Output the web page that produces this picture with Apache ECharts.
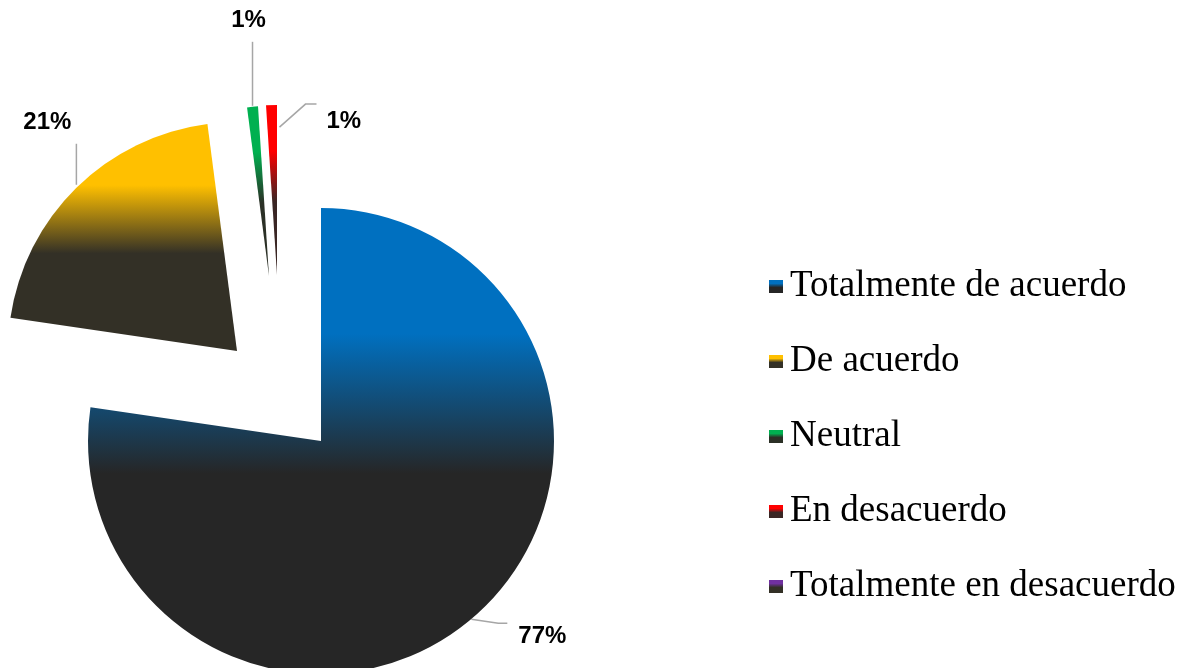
<!DOCTYPE html>
<html>
<head>
<meta charset="utf-8">
<script src="https://cdn.jsdelivr.net/npm/echarts/dist/echarts.min.js"></script>
<style>
html,body{margin:0;padding:0;background:#fff;}
#chart{width:1199px;height:668px;}
</style>
</head>
<body>
<div id="chart"></div>
<script>
// datos
var categorias = ['Totalmente de acuerdo', 'De acuerdo', 'Neutral', 'En desacuerdo', 'Totalmente en desacuerdo'];
var respuestas = [75, 20, 1, 1, 0];

// colores (arriba -> abajo del degradado)
var colores = ['#0070C0', '#FFC000', '#00B050', '#FF0000', '#7030A0'];
var oscuros = ['#262626', '#333026', '#2b3026', '#3a2624', '#333026'];

// cada porcion separada (explosion) va en su propia serie
var centros = [[321, 441], [237, 351], [269, 276], [277, 275]];
var radios = [233, 229, 170, 170];

// guias de las etiquetas, relativas al punto de anclaje del arco
var guias = [
	{ini: [-2, 2], pts: [[25, 6], [34, 6]], txt: [45, 19], align: 'left'},
	{ini: [0, -3], pts: [[0, -44]], txt: [-29, -65], align: 'center'},
	{ini: [0, -1], pts: [[0, -65]], txt: [-4, -86], align: 'center'},
	{ini: [8, 22], pts: [[34, -1], [45, -1]], txt: [55, 16], align: 'left'}
];

function degradado(i){
	return new echarts.graphic.LinearGradient(0, 0, 0, 1, [
		{offset: 0, color: colores[i]},
		{offset: 0.27, color: colores[i]},
		{offset: 0.57, color: oscuros[i]},
		{offset: 1, color: oscuros[i]}
	]);
}

function datos(visible){
	var d = [];
	for(var i = 0; i < categorias.length; i++){
		var item = {name: categorias[i], value: respuestas[i]};
		if(visible == -1 || visible == i){
			item.itemStyle = {color: degradado(i)};
		}else{
			item.itemStyle = {color: 'rgba(0,0,0,0)'};
			item.label = {show: false};
			item.labelLine = {show: false};
		}
		d.push(item);
	}
	return d;
}

function layoutEtiqueta(k){
	var g = guias[k];
	return function(params){
		var a;
		if(params.labelLinePoints && params.labelLinePoints.length){
			a = params.labelLinePoints[0];
		}else{
			a = [params.rect.x + params.rect.width / 2, params.rect.y];
		}
		var linea = [[a[0] + g.ini[0], a[1] + g.ini[1]]];
		for(var j = 0; j < g.pts.length; j++){
			linea.push([a[0] + g.pts[j][0], a[1] + g.pts[j][1]]);
		}
		return {
			x: a[0] + g.txt[0],
			y: a[1] + g.txt[1],
			align: g.align,
			verticalAlign: 'middle',
			labelLinePoints: linea
		};
	};
}

var series = [];
// serie invisible solo para la leyenda
series.push({
	type: 'pie',
	name: 'leyenda',
	radius: 0,
	center: centros[0],
	silent: true,
	label: {show: false},
	labelLine: {show: false},
	itemStyle: {borderWidth: 0},
	data: datos(-1)
});

for(var k = 0; k < 4; k++){
	series.push({
		type: 'pie',
		name: 'porcion' + k,
		center: centros[k],
		radius: radios[k],
		startAngle: 90,
		clockwise: true,
		silent: true,
		avoidLabelOverlap: false,
		emphasis: {disabled: true},
		itemStyle: {borderWidth: 0},
		label: {
			show: true,
			position: 'outside',
			fontFamily: 'Liberation Sans',
			fontWeight: 'bold',
			fontSize: 24,
			color: '#000',
			formatter: function(p){ return Math.round(p.percent) + '%'; }
		},
		labelLine: {
			show: true,
			length: 10,
			length2: 10,
			lineStyle: {color: '#a6a6a6', width: 1.5}
		},
		labelLayout: layoutEtiqueta(k),
		data: datos(k)
	});
}

var myChart = echarts.init(document.getElementById('chart'));
var option = {
	backgroundColor: '#fff',
	animation: false,
	legend: {
		orient: 'vertical',
		left: 764,
		top: 263,
		icon: 'rect',
		itemWidth: 14,
		itemHeight: 13,
		itemGap: 38,
		selectedMode: false,
		itemStyle: {borderWidth: 0},
		data: categorias,
		textStyle: {
			fontFamily: 'Liberation Serif',
			fontSize: 37,
			lineHeight: 37,
			color: '#000',
			padding: [0, 0, 0, 2]
		}
	},
	series: series
};
myChart.setOption(option);
</script>
</body>
</html>
